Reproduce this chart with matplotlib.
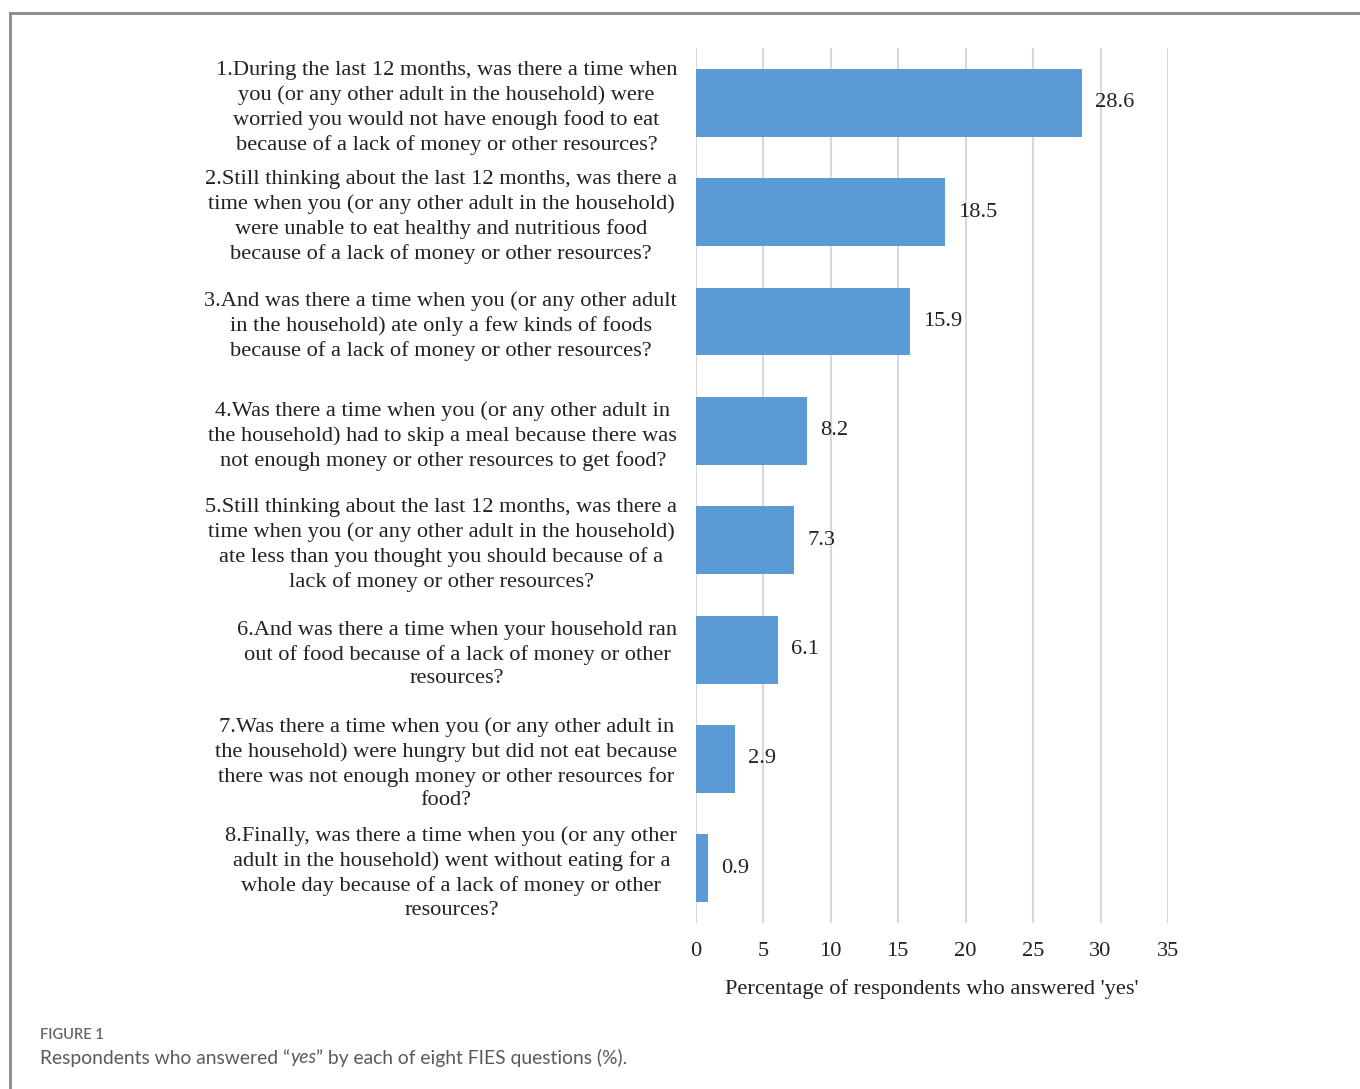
import matplotlib.pyplot as plt
from matplotlib.lines import Line2D

# FIES questions, top to bottom
questions = [
    "1.During the last 12 months, was there a time when\nyou (or any other adult in the household) were\nworried you would not have enough food to eat\nbecause of a lack of money or other resources?",
    "2.Still thinking about the last 12 months, was there a\ntime when you (or any other adult in the household)\nwere unable to eat healthy and nutritious food\nbecause of a lack of money or other resources?",
    "3.And was there a time when you (or any other adult\nin the household) ate only a few kinds of foods\nbecause of a lack of money or other resources?",
    "4.Was there a time when you (or any other adult in\nthe household) had to skip a meal because there was\nnot enough money or other resources to get food?",
    "5.Still thinking about the last 12 months, was there a\ntime when you (or any other adult in the household)\nate less than you thought you should because of a\nlack of money or other resources?",
    "6.And was there a time when your household ran\nout of food because of a lack of money or other\nresources?",
    "7.Was there a time when you (or any other adult in\nthe household) were hungry but did not eat because\nthere was not enough money or other resources for\nfood?",
    "8.Finally, was there a time when you (or any other\nadult in the household) went without eating for a\nwhole day because of a lack of money or other\nresources?",
]
pct_yes = [28.6, 18.5, 15.9, 8.2, 7.3, 6.1, 2.9, 0.9]
x_ticks = [0, 5, 10, 15, 20, 25, 30, 35]

serif = ['Liberation Serif', 'DejaVu Serif']
fs = 16.1
fig = plt.figure(figsize=(13.6, 10.89), dpi=100)
ax = fig.add_axes([0.5118, 0.1524, 0.3470, 0.8035])

pos = list(range(len(questions)))
ax.barh(pos, pct_yes, height=0.62, color='#5B9BD5', zorder=3)
for p, v in zip(pos, pct_yes):
    ax.annotate(f"{v:.1f}", (v, p), xytext=(9.5, 0), textcoords='offset points',
                va='center', ha='left', fontsize=fs, family=serif, color='#222222')

ax.set_ylim(len(questions) - 0.5, -0.5)
ax.set_xlim(0, 35)
ax.set_xticks(x_ticks)
ax.set_xticklabels([str(t) for t in x_ticks], fontsize=fs, family=serif, color='#222222')
ax.set_yticks(pos)
ax.set_yticklabels(questions, fontsize=fs, family=serif, color='#222222', linespacing=1.34)
for lab in ax.get_yticklabels():
    lab.set_multialignment('center')
ax.tick_params(axis='both', length=0)
ax.tick_params(axis='y', pad=13.5)
ax.tick_params(axis='x', pad=13.5)
ax.grid(axis='x', color='#d9d9d9', linewidth=1.5, zorder=0)
for s in ax.spines.values():
    s.set_visible(False)
ax.set_xlabel("Percentage of respondents who answered 'yes'", fontsize=fs,
              family=serif, color='#222222', labelpad=13)

# frame around the figure panel
fig.add_artist(Line2D([10 / 1360, 1], [1 - 13 / 1089] * 2, transform=fig.transFigure,
                      color='#8a8a8a', linewidth=2))
fig.add_artist(Line2D([10 / 1360] * 2, [0, 1 - 13 / 1089], transform=fig.transFigure,
                      color='#8a8a8a', linewidth=2))

# caption
cap_font = ['Lato', 'DejaVu Sans']
fig.text(40 / 1360, 1 - 1035 / 1089, "FIGURE 1", fontsize=10.5, family=cap_font,
         weight='semibold', color='#666666', va='center')
parts = [("Respondents who answered \u201c", 'normal'), ("yes", 'italic'),
         ("\u201d by each of eight FIES questions (%).", 'normal')]
renderer = fig.canvas.get_renderer()
x0 = 40 / 1360
for txt, style in parts:
    t = fig.text(x0, 1 - 1058 / 1089, txt, fontsize=13.85, family=cap_font, style=style,
                 color='#5a5a5a', va='center')
    bb = t.get_window_extent(renderer)
    x0 = bb.x1 / fig.bbox.width

fig.savefig('out.png', dpi=100)
